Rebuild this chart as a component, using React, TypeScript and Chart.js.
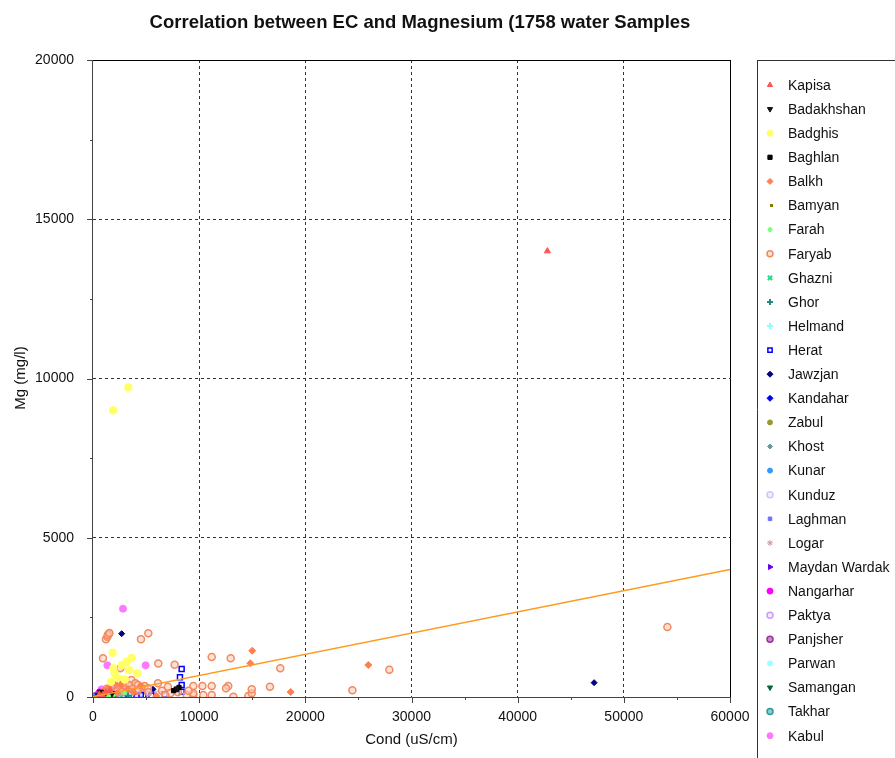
import React, { useEffect, useRef } from 'react';
import { Chart, registerables } from 'chart.js';
import { drawPoint } from 'chart.js/helpers';
Chart.register(...registerables);

type P = [number, number];

const titleText = 'Correlation between EC and Magnesium (1758 water Samples';
const xTitle = 'Cond (uS/cm)';
const yTitle = 'Mg (mg/l)';
const xTicks = [0, 10000, 20000, 30000, 40000, 50000, 60000];
const yTicks = [0, 5000, 10000, 15000, 20000];

const kapisa: P[] = [[42800, 14000], [600, 80], [1200, 150], [900, 60], [1600, 210]];
const badakhshan: P[] = [[7900, 260], [500, 50], [1100, 90], [1800, 120], [700, 160]];
const badghis: P[] = [[1900, 9000], [3330, 9720], [1850, 1390], [3640, 1234], [3170, 1109], [3390, 848], [1915, 900], [2040, 744], [4170, 744], [2700, 1000], [2300, 600], [3000, 550], [1700, 480]];
const baghlan: P[] = [[7880, 241], [7600, 200], [8100, 300]];
const balkh: P[] = [[15000, 1454], [14820, 1058], [18620, 157], [25930, 1005], [2070, 430], [1500, 300], [2600, 380], [3300, 250], [1000, 200], [4500, 350], [2300, 120], [3800, 150], [5960, 31]];
const bamyan: P[] = [[700, 100], [1500, 200], [2200, 140]];
const farah: P[] = [[800, 60], [2000, 90], [3000, 130], [1500, 40]];
const faryab: P[] = [[1220, 1810], [1350, 1890], [1480, 1980], [1400, 1950], [1550, 2010], [4520, 1810], [5210, 2000], [940, 1214], [2570, 900], [6150, 1050], [7690, 1010], [11180, 1256], [12970, 1214], [17640, 900], [16670, 324], [12740, 345], [12530, 272], [11180, 345], [10300, 345], [9450, 345], [9450, 63], [10390, 63], [11180, 63], [13220, 10], [14630, 31], [14950, 116], [14950, 241], [27910, 858], [24430, 209], [54100, 2200], [3610, 534], [3990, 430], [6120, 430], [7060, 324], [9450, 116], [8830, 63], [3000, 300], [2500, 250], [2860, 480], [2980, 430], [4240, 377], [4550, 304], [4870, 345], [5180, 272], [4200, 200], [5200, 150], [6500, 200], [7300, 120], [8000, 150], [9000, 200], [1800, 350], [2200, 180], [3400, 380], [3700, 260], [1300, 260], [2700, 160], [6800, 60]];
const ghazni: P[] = [[600, 40], [1100, 70], [1700, 110], [2600, 30]];
const ghor: P[] = [[300, 30], [900, 60], [1400, 100], [2100, 80], [2700, 120], [3300, 40]];
const helmand: P[] = [[1000, 40], [2500, 70], [3500, 100]];
const herat: P[] = [[8350, 879], [8190, 618], [8350, 377], [8350, 166], [6750, 85], [4740, 31], [4500, 60], [3800, 40], [5500, 50], [2900, 30], [3300, 90], [4100, 20]];
const jawzjan: P[] = [[47200, 450], [2700, 1988], [5650, 241], [1500, 150], [3200, 200]];
const kandahar: P[] = [[400, 40], [1600, 60], [2300, 110]];
const zabul: P[] = [[500, 30], [1300, 80], [2000, 60]];
const khost: P[] = [[300, 20], [800, 50], [1500, 70]];
const kunar: P[] = [[200, 20], [700, 40], [1200, 60], [2200, 100]];
const kunduz: P[] = [[4900, 100], [5200, 60], [6200, 80], [3800, 200], [4300, 150], [5600, 120]];
const laghman: P[] = [[1000, 60], [1800, 90], [2600, 50], [3600, 70]];
const logar: P[] = [[600, 70], [1400, 120], [2100, 160]];
const maydanWardak: P[] = [[800, 90], [1700, 140], [4300, 80]];
const nangarhar: P[] = [[300, 50], [700, 90], [1100, 130], [1500, 60], [2000, 200], [2400, 100], [2900, 180], [3500, 80], [4000, 60], [600, 160], [1300, 220], [1800, 140], [2200, 40], [2700, 90], [3200, 130], [900, 20]];
const paktya: P[] = [[900, 110], [1600, 170], [2300, 220]];
const panjsher: P[] = [[1200, 80], [1900, 50], [2600, 140]];
const parwan: P[] = [[500, 50], [1300, 40], [2100, 70]];
const samangan: P[] = [[400, 30], [1000, 100], [1700, 90], [2400, 60], [3100, 110], [1400, 20], [2000, 30]];
const takhar: P[] = [[200, 20], [600, 60], [1200, 80], [1800, 40], [2500, 90], [3200, 60], [900, 30], [1500, 110], [2100, 20]];
const kabul: P[] = [[2826, 2773], [1350, 995], [4960, 995], [500, 100], [1000, 180], [1500, 250], [2000, 150], [3000, 120], [3700, 200], [4200, 90], [800, 240], [1700, 320], [2400, 260], [3300, 40], [4600, 140], [1200, 40], [2600, 30]];

const regX = [0, 60000];
const regY = [10, 4000];

type S = { name: string; data: P[]; color: string; fill?: string; style: string; rot?: number; r: number; bw?: number };

const series: S[] = [
  { name: 'Kapisa', data: kapisa, color: '#ff5555', style: 'triangle', r: 3.5 },
  { name: 'Badakhshan', data: badakhshan, color: '#111111', style: 'triangle', rot: 180, r: 3.5 },
  { name: 'Badghis', data: badghis, color: '#ffff66', style: 'circle', r: 3.8 },
  { name: 'Baghlan', data: baghlan, color: '#000000', style: 'rect', r: 3 },
  { name: 'Balkh', data: balkh, color: '#ff7f50', style: 'rectRot', r: 3.5 },
  { name: 'Bamyan', data: bamyan, color: '#808000', style: 'dash', r: 3, bw: 3 },
  { name: 'Farah', data: farah, color: '#77ff77', style: 'circle', r: 2 },
  { name: 'Faryab', data: faryab, color: '#f08a60', fill: 'rgba(255,205,185,0.6)', style: 'circle', r: 3.5, bw: 1.5 },
  { name: 'Ghazni', data: ghazni, color: '#22dd88', style: 'crossRot', r: 3, bw: 2 },
  { name: 'Ghor', data: ghor, color: '#228888', style: 'cross', r: 3.5, bw: 2 },
  { name: 'Helmand', data: helmand, color: '#88ffff', style: 'cross', r: 3.5, bw: 2 },
  { name: 'Herat', data: herat, color: '#0000ff', fill: 'rgba(255,255,255,0.8)', style: 'rect', r: 3.5, bw: 1.5 },
  { name: 'Jawzjan', data: jawzjan, color: '#000080', style: 'rectRot', r: 3 },
  { name: 'Kandahar', data: kandahar, color: '#0000ff', style: 'rectRot', r: 3 },
  { name: 'Zabul', data: zabul, color: '#999933', style: 'circle', r: 2.5 },
  { name: 'Khost', data: khost, color: '#669999', style: 'rectRot', r: 2.5 },
  { name: 'Kunar', data: kunar, color: '#3399ff', style: 'circle', r: 2.5 },
  { name: 'Kunduz', data: kunduz, color: '#c8c8ff', fill: 'rgba(232,232,255,0.7)', style: 'circle', r: 3.5, bw: 1.5 },
  { name: 'Laghman', data: laghman, color: '#7070ff', style: 'rect', r: 2.5 },
  { name: 'Logar', data: logar, color: '#cc9999', style: 'star', r: 3.5, bw: 1 },
  { name: 'Maydan Wardak', data: maydanWardak, color: '#6600ee', style: 'triangle', rot: 90, r: 3.5 },
  { name: 'Nangarhar', data: nangarhar, color: '#ff00ff', style: 'circle', r: 3 },
  { name: 'Paktya', data: paktya, color: '#cc99ff', fill: 'rgba(240,225,255,0.7)', style: 'circle', r: 3.5, bw: 1.5 },
  { name: 'Panjsher', data: panjsher, color: '#993399', fill: '#cc88cc', style: 'circle', r: 3.5, bw: 1.5 },
  { name: 'Parwan', data: parwan, color: '#99ffff', style: 'circle', r: 2.5 },
  { name: 'Samangan', data: samangan, color: '#006633', style: 'triangle', rot: 180, r: 3.5 },
  { name: 'Takhar', data: takhar, color: '#339999', fill: '#88cccc', style: 'circle', r: 3.5, bw: 1.5 },
  { name: 'Kabul', data: kabul, color: '#ff77ff', style: 'circle', r: 3.5 },
];

const FONT = '"Liberation Sans", Arial, sans-serif';

const decorPlugin = {
  id: 'decor',
  afterDraw(chart: any) {
    const { ctx, chartArea: a, scales } = chart;
    const xs = scales.x, ys = scales.y;
    ctx.save();
    ctx.strokeStyle = '#000';
    ctx.lineWidth = 1;
    ctx.beginPath();
    ctx.moveTo(a.left, a.top + 0.5); ctx.lineTo(a.right, a.top + 0.5);
    ctx.moveTo(a.right + 0.5, a.top); ctx.lineTo(a.right + 0.5, a.bottom);
    ctx.stroke();
    ctx.strokeStyle = '#444';
    ctx.beginPath();
    ctx.moveTo(a.left - 0.5, a.top); ctx.lineTo(a.left - 0.5, a.bottom + 1);
    ctx.moveTo(a.left - 1, a.bottom + 0.5); ctx.lineTo(a.right + 1, a.bottom + 0.5);
    ctx.stroke();
    ctx.beginPath();
    for (let v = 0; v <= 60000; v += 5000) {
      const px = Math.round(xs.getPixelForValue(v)) + 0.5;
      const len = v % 10000 === 0 ? 6 : 3;
      ctx.moveTo(px, a.bottom); ctx.lineTo(px, a.bottom + len);
    }
    for (let v = 0; v <= 20000; v += 2500) {
      const py = Math.round(ys.getPixelForValue(v)) + 0.5;
      const len = v % 5000 === 0 ? 6 : 3;
      ctx.moveTo(a.left, py); ctx.lineTo(a.left - len, py);
    }
    ctx.stroke();
    ctx.fillStyle = '#111';
    ctx.textAlign = 'center';
    ctx.textBaseline = 'middle';
    ctx.font = `bold 18.5px ${FONT}`;
    ctx.fillText(titleText, 420, 23);
    ctx.font = `15px ${FONT}`;
    ctx.fillText(xTitle, (a.left + a.right) / 2, 740);
    ctx.save();
    ctx.translate(21, 378);
    ctx.rotate(-Math.PI / 2);
    ctx.fillText(yTitle, 0, 0);
    ctx.restore();
    ctx.strokeStyle = '#333';
    ctx.beginPath();
    ctx.moveTo(757.5, 61); ctx.lineTo(757.5, 758);
    ctx.moveTo(757, 60.5); ctx.lineTo(895, 60.5);
    ctx.stroke();
    ctx.textAlign = 'left';
    ctx.font = `14px ${FONT}`;
    let idx = 0;
    chart.data.datasets.forEach((ds: any) => {
      if (ds.isReg) return;
      const y = 85 + idx * 24.1;
      ctx.fillStyle = ds.pointBackgroundColor;
      ctx.strokeStyle = ds.pointBorderColor;
      ctx.lineWidth = ds.pointBorderWidth;
      drawPoint(ctx, { pointStyle: ds.pointStyle, rotation: ds.pointRotation, radius: Math.min(ds.pointRadius, 3), borderWidth: ds.pointBorderWidth }, 770, y);
      ctx.fillStyle = '#111';
      ctx.fillText(ds.label, 788, y + 1);
      idx++;
    });
    ctx.restore();
  },
};

export default function App() {
  const ref = useRef<HTMLCanvasElement>(null);
  useEffect(() => {
    if (!ref.current) return;
    const datasets: any[] = [
      {
        label: 'Regression',
        isReg: true,
        data: regX.map((x, i) => ({ x, y: regY[i] })),
        showLine: true,
        borderColor: '#ff9a1f',
        borderWidth: 1.5,
        pointRadius: 0,
        fill: false,
      },
      ...series.map((s) => ({
        label: s.name,
        data: s.data.map(([x, y]) => ({ x, y })),
        pointStyle: s.style,
        pointRotation: s.rot || 0,
        pointRadius: s.r,
        pointBackgroundColor: s.fill || s.color,
        pointBorderColor: s.color,
        pointBorderWidth: s.bw ?? 1,
        pointHoverRadius: s.r,
        showLine: false,
      })),
    ];
    const chart = new Chart(ref.current, {
      type: 'scatter',
      data: { datasets },
      options: {
        animation: false,
        responsive: false,
        events: [],
        layout: { padding: { top: 60, right: 165, bottom: 0, left: 0 } },
        plugins: { legend: { display: false }, tooltip: { enabled: false }, title: { display: false } },
        scales: {
          x: {
            type: 'linear',
            min: 0,
            max: 60000,
            afterFit: (s: any) => { s.height = 61; },
            afterBuildTicks: (s: any) => { s.ticks = xTicks.map((v) => ({ value: v })); },
            ticks: { color: '#111', font: { family: FONT, size: 14 }, padding: 12, maxRotation: 0, autoSkip: false, callback: (v: any) => String(v) },
            grid: { drawTicks: false, color: (c: any) => (c.tick && (c.tick.value === 0 || c.tick.value === 60000) ? 'rgba(0,0,0,0)' : '#333'), lineWidth: 1 },
            border: { display: false, dash: [3, 3] },
          },
          y: {
            type: 'linear',
            min: 0,
            max: 20000,
            afterFit: (s: any) => { s.width = 93; },
            afterBuildTicks: (s: any) => { s.ticks = yTicks.map((v) => ({ value: v })); },
            ticks: { color: '#111', font: { family: FONT, size: 14 }, padding: 19, autoSkip: false, callback: (v: any) => String(v) },
            grid: { drawTicks: false, color: (c: any) => (c.tick && (c.tick.value === 0 || c.tick.value === 20000) ? 'rgba(0,0,0,0)' : '#333'), lineWidth: 1 },
            border: { display: false, dash: [3, 3] },
          },
        },
      },
      plugins: [decorPlugin],
    });
    return () => chart.destroy();
  }, []);
  return (
    <div style={{ position: 'absolute', left: 0, top: 0, width: 895, height: 758, background: '#fff' }}>
      <canvas ref={ref} width={895} height={758} style={{ display: 'block' }} />
    </div>
  );
}
